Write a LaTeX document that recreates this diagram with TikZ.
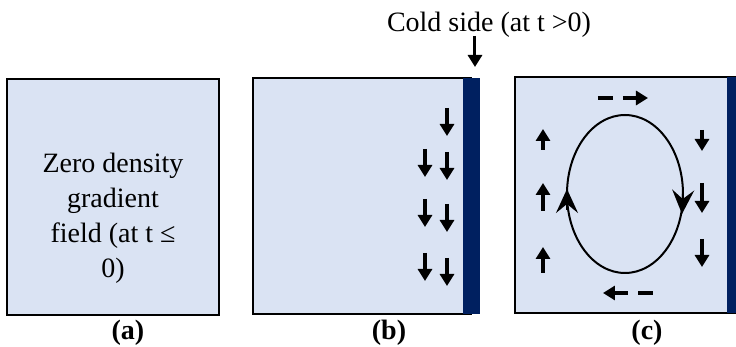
\documentclass[tikz,border=0pt]{standalone}
\usepackage{fontspec}
\setmainfont{Liberation Serif}
\usetikzlibrary{arrows.meta}
\definecolor{boxblue}{RGB}{218,227,243}
\definecolor{wallblue}{RGB}{0,32,96}
\begin{document}
\begin{tikzpicture}[x=0.5pt,y=-0.5pt,
  panel/.style={draw=black,line width=1pt,fill=boxblue},
  wall/.style={fill=wallblue},
  flow/.style={line width=2pt,-{Triangle[width=7pt,length=6pt]}},
  loop/.style={line width=1pt,-{Stealth[length=12pt,width=11pt,inset=4.5pt]}},
  tag/.style={anchor=base,font=\bfseries\fontsize{14}{16}\selectfont},
  txt/.style={font=\fontsize{14}{17.5}\selectfont}]
\useasboundingbox (0,0) rectangle (736,347);
% (a)
\draw[panel] (7,79) rectangle (219,315);
\node[txt,align=center,inner sep=0] (field) at (113,218) {Zero density\\gradient\\field (at t ≤\\0)};
\node[tag] (la) at (128,340) {(a)};
% (b)
\draw[panel] (253,78) rectangle (471,314);
\fill[wall] (463,78) rectangle (480,314);
\foreach \x/\y in {447/108,425/149,447/152,425/199,447/204,425/253,447/258}
  \draw[flow] (\x,\y) -- ++(0,28);
\node[txt,anchor=base] (cold) at (489,32) {Cold side (at t >0)};
\coordinate (c1) at (475,36);
\coordinate (c2) at (475,67);
\draw[flow,line width=1.5pt] (c1) -- (c2);
\node[tag] (lb) at (389,340) {(b)};
% (c)
\draw[panel] (515,77) rectangle (735,313);
\fill[wall] (727,77) rectangle (744,313);
\draw[line width=1pt] (625,194) ellipse[x radius=58,y radius=79];
\draw[loop] (683,194) -- (682,214);
\draw[loop] (567,210) -- (567,189);
\foreach \y/\l in {150/21,211/28,273/26}
  \draw[flow] (543,\y) -- ++(0,-\l);
\foreach \y/\l in {130/21,183/30,239/28}
  \draw[flow] (702,\y) -- ++(0,\l);
\draw[flow,dash pattern=on 7.5pt off 5pt] (598,98) -- (648,98);
\draw[flow,dash pattern=on 7.5pt off 5pt] (653,293) -- (603,293);
\node[tag] (lc) at (647,340) {(c)};
\end{tikzpicture}
\end{document}
